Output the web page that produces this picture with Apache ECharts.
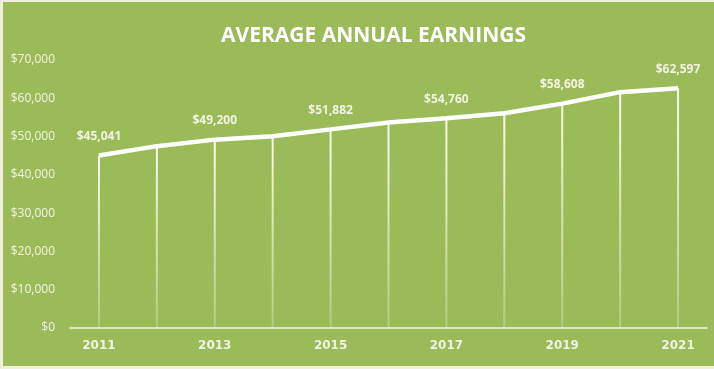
<!DOCTYPE html>
<html><head><meta charset="utf-8">
<script src="https://cdn.jsdelivr.net/npm/echarts@6/dist/echarts.min.js"></script>
<style>
html,body{margin:0;padding:0;background:#eef0dc;width:714px;height:369px;overflow:hidden}
#c{position:absolute;left:3px;top:2px;width:711px;height:364px;background:#9bbb59}
</style></head><body><div id="c"></div>
<script>
const years = ['2011','2012','2013','2014','2015','2016','2017','2018','2019','2020','2021'];
const earnings = [45041, 47500, 49200, 50100, 51882, 53700, 54760, 56100, 58608, 61600, 62597];
const labeledYears = ['2011','2013','2015','2017','2019','2021'];
const yTicks = [0, 10000, 20000, 30000, 40000, 50000, 60000, 70000];

const txt = '#f3f3e4';
const chart = echarts.init(document.getElementById('c'));
chart.setOption({
  animation:false,
  title:{text:'AVERAGE ANNUAL EARNINGS', left:213, top:19,
    textStyle:{color:'#ffffff', fontFamily:'Open Sans', fontWeight:'bold', fontSize:21}},
  grid:{left:67, right:7, top:58, bottom:38},
  xAxis:{type:'category', data:years, boundaryGap:true,
    axisLine:{lineStyle:{color:'#f3f3dc', width:1.5}}, axisTick:{show:false},
    axisLabel:{color:txt, fontFamily:'DejaVu Sans', fontWeight:'bold', fontSize:12, margin:12,
      interval:(i,v)=>labeledYears.includes(v)}},
  yAxis:{type:'value', min:yTicks[0], max:yTicks[yTicks.length-1], interval:10000,
    splitLine:{show:false}, axisLine:{show:false}, axisTick:{show:false},
    axisLabel:{color:txt, fontFamily:'Open Sans', fontSize:12, margin:15,
      formatter:v=>'$'+v.toLocaleString('en-US')}},
  series:[
    {type:'bar', data:earnings, barWidth:2, silent:true,
      itemStyle:{color:new echarts.graphic.LinearGradient(0,0,0,1,[
        {offset:0,color:'rgba(255,255,245,0.95)'},{offset:1,color:'rgba(255,255,245,0.25)'}])}},
    {type:'line', data:earnings, showSymbol:true, symbol:'circle', symbolSize:0.1,
      itemStyle:{color:'#ffffff'},
      lineStyle:{color:'#ffffff', width:4.5}, z:5,
      label:{show:true, position:'top', distance:13, color:txt, fontFamily:'Open Sans',
        fontWeight:'bold', fontSize:12,
        formatter:p=>labeledYears.includes(p.name)?'$'+p.value.toLocaleString('en-US'):''}}
  ]
});
</script></body></html>
